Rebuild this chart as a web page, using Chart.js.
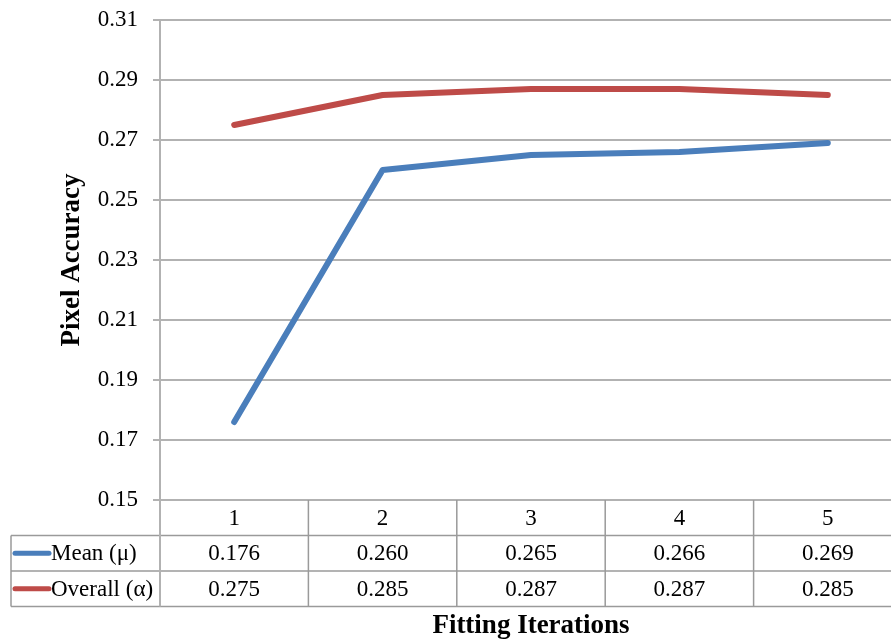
<!DOCTYPE html>
<html>
<head>
<meta charset="utf-8">
<script src="https://cdn.jsdelivr.net/npm/chart.js@4/dist/chart.umd.min.js"></script>
<style>
  html, body { margin: 0; padding: 0; background: #fff; overflow: hidden; }
  #wrap { width: 902px; height: 643px; position: relative; }
</style>
</head>
<body>
<div id="wrap"><canvas id="c"></canvas></div>
<script>
// Fitting iterations and pixel accuracy per series
const iterations = ['1', '2', '3', '4', '5'];
const meanValues = [0.176, 0.260, 0.265, 0.266, 0.269];
const overallValues = [0.275, 0.285, 0.287, 0.287, 0.285];
const seriesNames = ['Mean (\u03bc)', 'Overall (\u03b1)'];
const yTicks = [0.15, 0.17, 0.19, 0.21, 0.23, 0.25, 0.27, 0.29, 0.31];

const FONT = '"Liberation Serif", "Times New Roman", serif';
const BLUE = '#4a7ebb';
const RED = '#be4b48';
const GRID = '#b2b2b2';
const TABLE_LINE = '#9a9a9a';

// Data table drawn under the plot, aligned to the category scale
const dataTablePlugin = {
  id: 'dataTable',
  afterDraw(chart) {
    const ctx = chart.ctx;
    const x = chart.scales.x;
    const area = chart.chartArea;
    const rowH = 35.5;
    const top = area.bottom;
    const colW = x.getPixelForValue(1) - x.getPixelForValue(0);
    const tableLeft = 11;
    const right = area.right;
    const rows = [top, top + rowH, top + 2 * rowH, top + 3 * rowH];

    ctx.save();
    ctx.strokeStyle = TABLE_LINE;
    ctx.lineWidth = 1.5;
    ctx.beginPath();
    // horizontal rules
    for (let r = 1; r < rows.length; r++) {
      ctx.moveTo(tableLeft, rows[r]);
      ctx.lineTo(right, rows[r]);
    }
    // left edge of the legend column
    ctx.moveTo(tableLeft, rows[1]);
    ctx.lineTo(tableLeft, rows[3]);
    // column separators
    for (let i = 1; i < iterations.length; i++) {
      const bx = x.getPixelForValue(i) - colW / 2;
      ctx.moveTo(bx, rows[0]);
      ctx.lineTo(bx, rows[3]);
    }
    ctx.stroke();

    // axis line continues down through the table
    ctx.strokeStyle = GRID;
    ctx.lineWidth = 2;
    ctx.beginPath();
    ctx.moveTo(area.left, rows[0]);
    ctx.lineTo(area.left, rows[3]);
    ctx.stroke();

    ctx.fillStyle = '#000';
    ctx.font = '23px ' + FONT;
    ctx.textAlign = 'center';
    ctx.textBaseline = 'middle';
    iterations.forEach((lab, i) => {
      ctx.fillText(lab, x.getPixelForValue(i), (rows[0] + rows[1]) / 2 + 1);
    });

    const series = [meanValues, overallValues];
    const colors = [BLUE, RED];
    series.forEach((vals, s) => {
      const cy = (rows[s + 1] + rows[s + 2]) / 2;
      // legend key
      ctx.strokeStyle = colors[s];
      ctx.lineWidth = 5;
      ctx.lineCap = 'round';
      ctx.beginPath();
      ctx.moveTo(15, cy);
      ctx.lineTo(49, cy);
      ctx.stroke();
      ctx.textAlign = 'left';
      ctx.fillText(seriesNames[s], 51, cy + 1);
      ctx.textAlign = 'center';
      vals.forEach((v, i) => {
        ctx.fillText(v.toFixed(3), x.getPixelForValue(i), cy + 1);
      });
    });

    // horizontal axis title
    ctx.font = 'bold 27px ' + FONT;
    ctx.textAlign = 'center';
    ctx.textBaseline = 'middle';
    ctx.fillText('Fitting Iterations', 531, 626);
    ctx.restore();
  }
};

new Chart(document.getElementById('c'), {
  type: 'line',
  data: {
    labels: iterations,
    datasets: [
      {
        label: seriesNames[0],
        data: meanValues,
        borderColor: BLUE,
        backgroundColor: BLUE,
        borderWidth: 6,
        pointRadius: 0,
        borderCapStyle: 'round',
        borderJoinStyle: 'round',
        tension: 0
      },
      {
        label: seriesNames[1],
        data: overallValues,
        borderColor: RED,
        backgroundColor: RED,
        borderWidth: 6,
        pointRadius: 0,
        borderCapStyle: 'round',
        borderJoinStyle: 'round',
        tension: 0
      }
    ]
  },
  options: {
    responsive: true,
    maintainAspectRatio: false,
    animation: false,
    layout: { padding: { top: 20, bottom: 143, left: 0, right: 0 } },
    plugins: {
      legend: { display: false },
      tooltip: { enabled: false }
    },
    scales: {
      x: {
        type: 'category',
        display: false,
        offset: true
      },
      y: {
        min: 0.15,
        max: 0.31,
        afterBuildTicks(scale) {
          scale.ticks = yTicks.map(v => ({ value: v }));
        },
        afterFit(scale) {
          scale.width = 160;
          scale.paddingTop = 0;
          scale.paddingBottom = 0;
        },
        border: { display: true, color: GRID, width: 2 },
        grid: {
          color: GRID,
          lineWidth: 2,
          drawTicks: true,
          tickLength: 7,
          tickColor: GRID
        },
        ticks: {
          color: '#000',
          padding: 15,
          font: { family: FONT, size: 23 },
          callback: v => v.toFixed(2)
        },
        title: {
          display: true,
          text: 'Pixel Accuracy',
          color: '#000',
          font: { family: FONT, size: 27, weight: 'bold' },
          padding: { top: 56, bottom: 0 }
        }
      }
    }
  },
  plugins: [dataTablePlugin]
});
</script>
</body>
</html>
